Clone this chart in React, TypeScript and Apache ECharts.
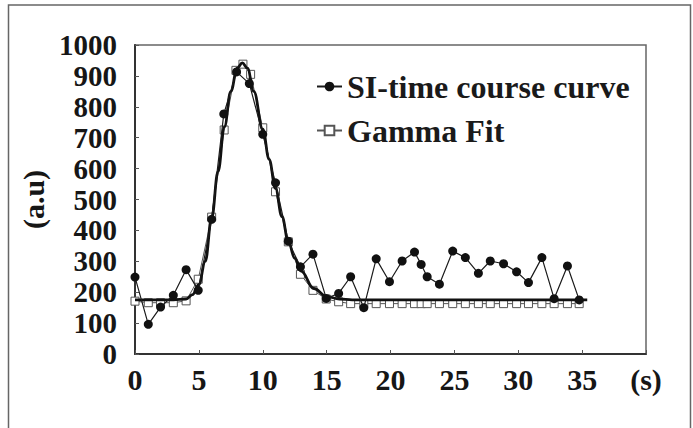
import React, { useEffect, useRef } from "react";
import * as echarts from "echarts";

// SI-time course curve (filled circles)
const siTime = [0, 1.04, 2, 3, 4, 4.95, 6, 6.95, 7.95, 8.95, 10, 11, 12, 12.95, 13.93, 14.97, 15.94, 16.88, 17.91, 18.88, 19.92, 20.91, 21.88, 22.4, 22.87, 23.83, 24.87, 25.86, 26.88, 27.81, 28.85, 29.87, 30.8, 31.85, 32.81, 33.85, 34.77];
const siValue = [249, 96, 152, 190, 273, 206, 436, 777, 913, 875, 711, 554, 365, 282, 323, 180, 196, 250, 150, 308, 234, 301, 330, 290, 250, 226, 333, 312, 261, 301, 292, 266, 231, 312, 179, 285, 175];

// Gamma fit sample points (hollow squares)
const fitTime = [0, 1.04, 2, 3, 4, 4.95, 6, 6.98, 7.9, 8.45, 9.05, 10, 11, 12, 12.95, 13.93, 14.97, 15.94, 16.88, 17.91, 18.88, 19.92, 20.91, 21.88, 22.4, 22.87, 23.83, 24.87, 25.86, 26.88, 27.81, 28.85, 29.87, 30.8, 31.85, 32.81, 33.85, 34.77];
const fitValue = [171, 166, 166, 166, 172, 242, 443, 725, 918, 938, 905, 732, 525, 363, 258, 206, 178, 169, 163, 163, 163, 163, 163, 163, 163, 163, 163, 163, 163, 163, 163, 163, 163, 163, 163, 163, 163, 163];

// Continuous gamma fit curve (thick line)
const curveTime = [0, 1, 2, 3, 4, 4.5, 5, 5.5, 6, 6.5, 7, 7.5, 8, 8.4, 8.8, 9.3, 10, 10.5, 11, 11.5, 12, 12.5, 13, 14, 15, 16, 17, 20, 25, 30, 35.4];
const curveValue = [175, 175, 175, 175, 178, 192, 225, 300, 440, 590, 735, 850, 925, 942, 925, 850, 728, 630, 535, 445, 365, 310, 268, 212, 186, 178, 175, 175, 175, 175, 175];

const yTicks = [0, 100, 200, 300, 400, 500, 600, 700, 800, 900, 1000];
const xTickLabels = ["0", "5", "10", "15", "20", "25", "30", "35", "(s)"];

const FONT = "'Liberation Serif', 'Times New Roman', serif";

export default function App() {
  const ref = useRef<HTMLDivElement>(null);
  useEffect(() => {
    if (!ref.current) return;
    const chart = echarts.init(ref.current, undefined, { renderer: "svg" });
    const pair = (xs: number[], ys: number[]) => xs.map((x, i) => [x, ys[i]]);
    const labelStyle = {
      fontFamily: FONT,
      fontWeight: "bold" as const,
      fontSize: 30,
      color: "#161616",
    };
    chart.setOption({
      animation: false,
      backgroundColor: "#ffffff",
      graphic: [
        {
          type: "rect",
          shape: { x: 8.5, y: 5, width: 682, height: 440 },
          style: { fill: "none", stroke: "#666", lineWidth: 1.5 },
          silent: true,
          z: 0,
        },
      ],
      grid: {
        left: 135,
        right: 47,
        top: 45,
        bottom: 74,
        show: true,
        borderColor: "#666",
        borderWidth: 1.5,
        backgroundColor: "transparent",
      },
      legend: {
        data: ["SI-time course curve", "Gamma Fit"],
        orient: "vertical",
        left: 316,
        top: 69,
        padding: 0,
        itemWidth: 25,
        itemHeight: 12,
        itemGap: 9,
        textStyle: { ...labelStyle, fontSize: 32, lineHeight: 35, color: "#1a1a1a" },
      },
      xAxis: {
        type: "value",
        min: 0,
        max: 40,
        interval: 5,
        axisLine: { show: true, lineStyle: { color: "#333", width: 2 } },
        axisTick: { show: true, inside: true, length: 4, lineStyle: { color: "#555" } },
        splitLine: { show: false },
        axisLabel: {
          ...labelStyle,
          margin: 10,
          showMaxLabel: true,
          formatter: (v: number) => xTickLabels[Math.round(v / 5)] ?? "",
        },
      },
      yAxis: {
        type: "value",
        min: 0,
        max: 1000,
        interval: 100,
        name: "(a.u)",
        nameLocation: "middle",
        nameRotate: 90,
        nameGap: 74,
        nameTextStyle: { ...labelStyle },
        axisLine: { show: true, lineStyle: { color: "#333", width: 2 } },
        axisTick: { show: true, inside: true, length: 4, lineStyle: { color: "#555" } },
        splitLine: { show: false },
        axisLabel: {
          ...labelStyle,
          fontSize: 29,
          lineHeight: 29,
          margin: 18,
          formatter: (v: number) => (yTicks.includes(v) ? String(v) : ""),
        },
      },
      series: [
        {
          name: "Gamma Fit",
          type: "line",
          data: pair(fitTime, fitValue),
          symbol: "rect",
          symbolSize: 8,
          lineStyle: { color: "#555", width: 1 },
          itemStyle: { color: "#fff", borderColor: "#555", borderWidth: 1 },
          z: 2,
        },
        {
          name: "curve",
          type: "line",
          data: pair(curveTime, curveValue),
          smooth: 0.4,
          smoothMonotone: "x",
          showSymbol: false,
          symbol: "none",
          lineStyle: { color: "#111", width: 2.8 },
          itemStyle: { color: "#111" },
          z: 3,
        },
        {
          name: "SI-time course curve",
          type: "line",
          data: pair(siTime, siValue),
          symbol: "circle",
          symbolSize: 9,
          lineStyle: { color: "#1a1a1a", width: 1.2 },
          itemStyle: { color: "#111" },
          z: 4,
        },
      ],
    });
    return () => chart.dispose();
  }, []);
  return (
    <div
      ref={ref}
      style={{ position: "fixed", left: 0, top: 0, width: 693, height: 428 }}
    />
  );
}
